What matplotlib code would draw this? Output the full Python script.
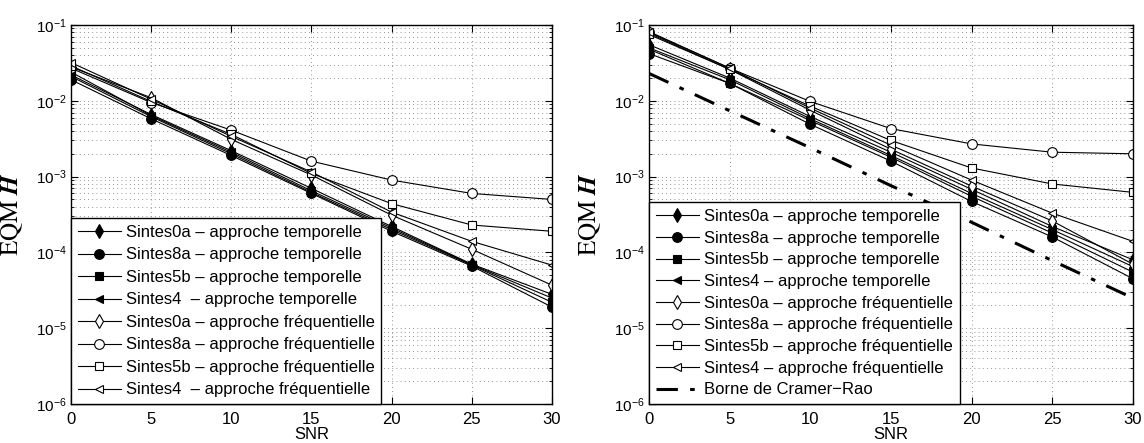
import matplotlib
matplotlib.use('Agg')
import matplotlib.pyplot as plt
import numpy as np
from matplotlib.ticker import LogLocator, NullFormatter

plt.rcParams['font.family'] = ['Liberation Sans', 'DejaVu Sans']
plt.rcParams['mathtext.fontset'] = 'custom'
plt.rcParams['mathtext.rm'] = 'Liberation Sans'
plt.rcParams['mathtext.it'] = 'Liberation Sans:italic'
plt.rcParams['mathtext.bf'] = 'Liberation Sans:bold'

snr = [0, 5, 10, 15, 20, 25, 30]

# left panel: EQM H
left_temp_0a = [0.022, 0.0066, 0.0022, 0.00070, 0.00022, 7.0e-5, 2.8e-5]
left_temp_8a = [0.019, 0.0058, 0.0019, 0.00060, 0.00019, 6.6e-5, 1.9e-5]
left_temp_5b = [0.021, 0.0062, 0.0020, 0.00062, 0.00020, 6.8e-5, 2.2e-5]
left_temp_4 = [0.024, 0.0064, 0.0021, 0.00065, 0.00021, 6.9e-5, 2.5e-5]
left_freq_0a = [0.028, 0.0110, 0.0031, 0.00105, 0.00031, 1.1e-4, 3.7e-5]
left_freq_8a = [0.027, 0.0095, 0.0041, 0.00160, 0.00090, 6.0e-4, 5.0e-4]
left_freq_5b = [0.029, 0.0098, 0.0036, 0.00110, 0.00044, 2.3e-4, 1.9e-4]
left_freq_4 = [0.032, 0.0105, 0.0034, 0.00115, 0.00034, 1.4e-4, 6.8e-5]

# right panel: EQM H + Cramer-Rao bound
right_temp_0a = [0.055, 0.020, 0.0062, 0.0021, 0.00068, 2.2e-4, 8.0e-5]
right_temp_8a = [0.042, 0.017, 0.0049, 0.0016, 0.00047, 1.6e-4, 4.5e-5]
right_temp_5b = [0.048, 0.017, 0.0055, 0.0018, 0.00055, 1.8e-4, 5.5e-5]
right_temp_4 = [0.050, 0.019, 0.0058, 0.0019, 0.00060, 2.0e-4, 6.5e-5]
right_freq_0a = [0.078, 0.026, 0.0075, 0.0023, 0.00075, 2.6e-4, 7.0e-5]
right_freq_8a = [0.080, 0.027, 0.0098, 0.0043, 0.00270, 2.1e-3, 2.0e-3]
right_freq_5b = [0.075, 0.026, 0.0085, 0.0030, 0.00130, 8.0e-4, 6.2e-4]
right_freq_4 = [0.082, 0.027, 0.0080, 0.0026, 0.00090, 3.3e-4, 1.4e-4]
crb = [0.023, 0.0074, 0.0024, 0.00076, 0.00025, 7.8e-5, 2.5e-5]

markers = ['d', 'o', 's', '<', 'd', 'o', 's', '<']
fills = ['k', 'k', 'k', 'k', 'w', 'w', 'w', 'w']


def style_axes(ax):
    ax.set_yscale('log')
    ax.set_xlim(0, 30)
    ax.set_ylim(1e-6, 1e-1)
    ax.set_xticks(snr)
    ax.yaxis.set_major_locator(LogLocator(base=10, numticks=10))
    ax.yaxis.set_minor_locator(LogLocator(base=10, subs=np.arange(2, 10), numticks=100))
    ax.yaxis.set_minor_formatter(NullFormatter())
    ax.tick_params(which='both', direction='in', top=True, right=True)
    ax.tick_params(which='major', length=5, width=0.8)
    ax.tick_params(which='minor', length=2.5, width=0.6)
    ax.tick_params(axis='x', pad=6, labelsize=12)
    ax.tick_params(axis='y', pad=3, labelsize=11)
    ax.grid(True, which='major', linestyle=(0, (1, 4)), color='0.45', linewidth=0.6)
    ax.yaxis.grid(True, which='minor', linestyle=(0, (1, 4)), color='0.45', linewidth=0.6)
    for sp in ax.spines.values():
        sp.set_linewidth(1.0)
    ax.set_xlabel('SNR', fontsize=12, labelpad=0)
    ax.set_ylabel(r'$\mathrm{EQM}\ \mathbfit{H}$', fontsize=18, labelpad=8,
                  math_fontfamily='stix')


def draw_series(ax, series, labels):
    for y, m, fc, lab in zip(series, markers, fills, labels):
        ms = 7 if m in ('d', 'o') else 6
        ax.plot(snr, y, color='k', linewidth=0.8, marker=m, markersize=ms,
                markerfacecolor=fc, markeredgecolor='k', markeredgewidth=0.8,
                label=lab)


fig = plt.figure(figsize=(11.44, 4.43), dpi=100)
ax1 = fig.add_axes([0.062, 0.088, 0.4205, 0.8555])
ax2 = fig.add_axes([0.5673, 0.088, 0.423, 0.8555])

labels_left = ['Sintes0a \u2013 approche temporelle',
               'Sintes8a \u2013 approche temporelle',
               'Sintes5b \u2013 approche temporelle',
               'Sintes4  \u2013 approche temporelle',
               'Sintes0a \u2013 approche fr\u00e9quentielle',
               'Sintes8a \u2013 approche fr\u00e9quentielle',
               'Sintes5b \u2013 approche fr\u00e9quentielle',
               'Sintes4  \u2013 approche fr\u00e9quentielle']
labels_right = [l.replace('Sintes4  ', 'Sintes4 ') for l in labels_left]

left_series = [left_temp_0a, left_temp_8a, left_temp_5b, left_temp_4,
               left_freq_0a, left_freq_8a, left_freq_5b, left_freq_4]
right_series = [right_temp_0a, right_temp_8a, right_temp_5b, right_temp_4,
                right_freq_0a, right_freq_8a, right_freq_5b, right_freq_4]

style_axes(ax1)
draw_series(ax1, left_series, labels_left)

style_axes(ax2)
draw_series(ax2, right_series, labels_right)
ax2.plot(snr, crb, color='k', linewidth=2.2, linestyle=(0, (7, 4, 1.5, 4)),
         label='Borne de Cramer\u2212Rao')

for ax, sp in ((ax1, 0.45), (ax2, 0.40)):
    leg = ax.legend(loc='lower left', bbox_to_anchor=(0, 0), borderaxespad=0,
                    fontsize=12, handlelength=2.6, handletextpad=0.3,
                    labelspacing=sp, borderpad=0.4, fancybox=False,
                    framealpha=1, edgecolor='k')
    leg.get_frame().set_linewidth(1.0)

fig.savefig('out.png', dpi=100)
